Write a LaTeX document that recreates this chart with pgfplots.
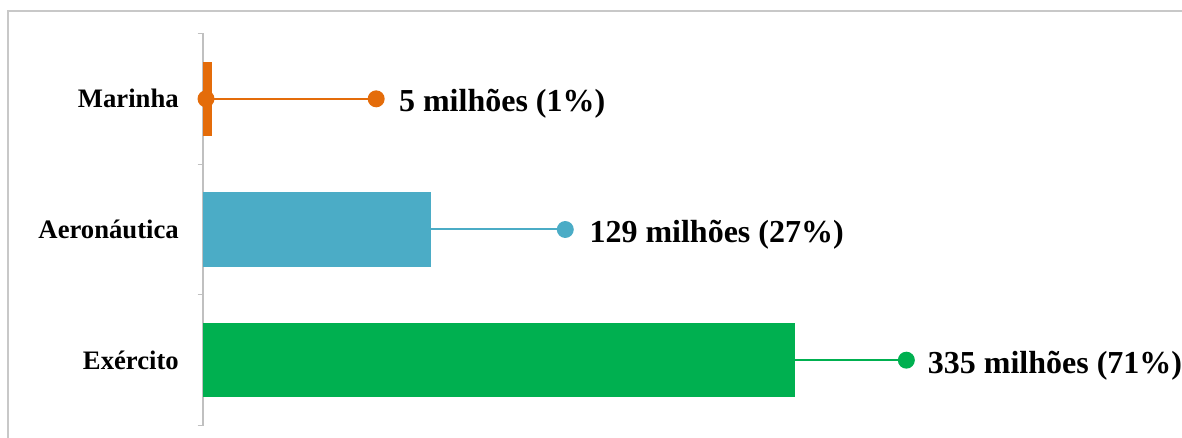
\documentclass[border=0pt]{standalone}
\usepackage{pgfplots}
\pgfplotsset{compat=1.18}
\usepackage{fontspec}
\setmainfont{Liberation Serif}
\definecolor{cOrange}{HTML}{E46C0A}
\definecolor{cBlue}{HTML}{4BACC6}
\definecolor{cGreen}{HTML}{00B050}
\definecolor{cFrame}{HTML}{C8C8C8}
\definecolor{cAxis}{HTML}{C0C0C0}
\begin{document}
\begin{tikzpicture}
\path[use as bounding box] (0,0) rectangle (886.5pt,-328.5pt);
\draw[cFrame, line width=1.2pt] (6pt,-328.5pt) -- (6pt,-8.25pt) -- (886.5pt,-8.25pt);
\begin{axis}[
  at={(152.25pt,-319.125pt)}, anchor=south west,
  scale only axis, width=636.2pt, height=294pt,
  xmin=0, xmax=480, ymin=-0.5, ymax=2.5,
  hide x axis,
  axis y line*=left,
  y axis line style={-, draw=cAxis, line width=0.8pt},
  ytick={0,1,2},
  yticklabels={Exércit\smash{o},Aeronáutica,Marinha},
  yticklabel style={font=\fontsize{20}{24}\selectfont\bfseries, inner sep=0pt, xshift=-18pt},
  major tick length=0pt,
  extra y ticks={-0.5,0.5,1.5,2.5},
  extra y tick labels={},
  extra y tick style={major tick length=4pt, tick align=outside, tick style={draw=cAxis, line width=0.8pt}},
  clip=false,
  xbar, bar width=0.57, bar shift=0pt,
]
\addplot[xbar, bar shift=0pt, fill=cGreen, draw=none] coordinates {(335,0)};
\addplot[xbar, bar shift=0pt, fill=cBlue, draw=none] coordinates {(129,1)};
\addplot[xbar, bar shift=0pt, fill=cOrange, draw=none] coordinates {(5,2)};
\addplot[sharp plot, cGreen, line width=1.5pt, mark=*, mark size=5.6pt, mark indices={2}, mark options={fill=cGreen, draw=cGreen}] coordinates {(335,0) (398,0)};
\addplot[sharp plot, cBlue, line width=1.5pt, mark=*, mark size=5.6pt, mark indices={2}, mark options={fill=cBlue, draw=cBlue}] coordinates {(129,1) (205,1)};
\addplot[sharp plot, cOrange, line width=1.5pt, mark=*, mark size=5.6pt, mark options={fill=cOrange, draw=cOrange}] coordinates {(1.7,2) (98,2)};
\node[anchor=west, inner sep=0pt, xshift=16pt, yshift=-4pt, font=\fontsize{24}{28}\selectfont\bfseries] at (axis cs:398,0) {335 milhões (71\%)};
\node[anchor=west, inner sep=0pt, xshift=18pt, yshift=-4pt, font=\fontsize{24}{28}\selectfont\bfseries] at (axis cs:205,1) {129 milhões (27\%)};
\node[anchor=west, inner sep=0pt, xshift=17pt, yshift=-4pt, font=\fontsize{24}{28}\selectfont\bfseries] at (axis cs:98,2) {5 milhões (1\%)};
\end{axis}
\end{tikzpicture}
\end{document}
